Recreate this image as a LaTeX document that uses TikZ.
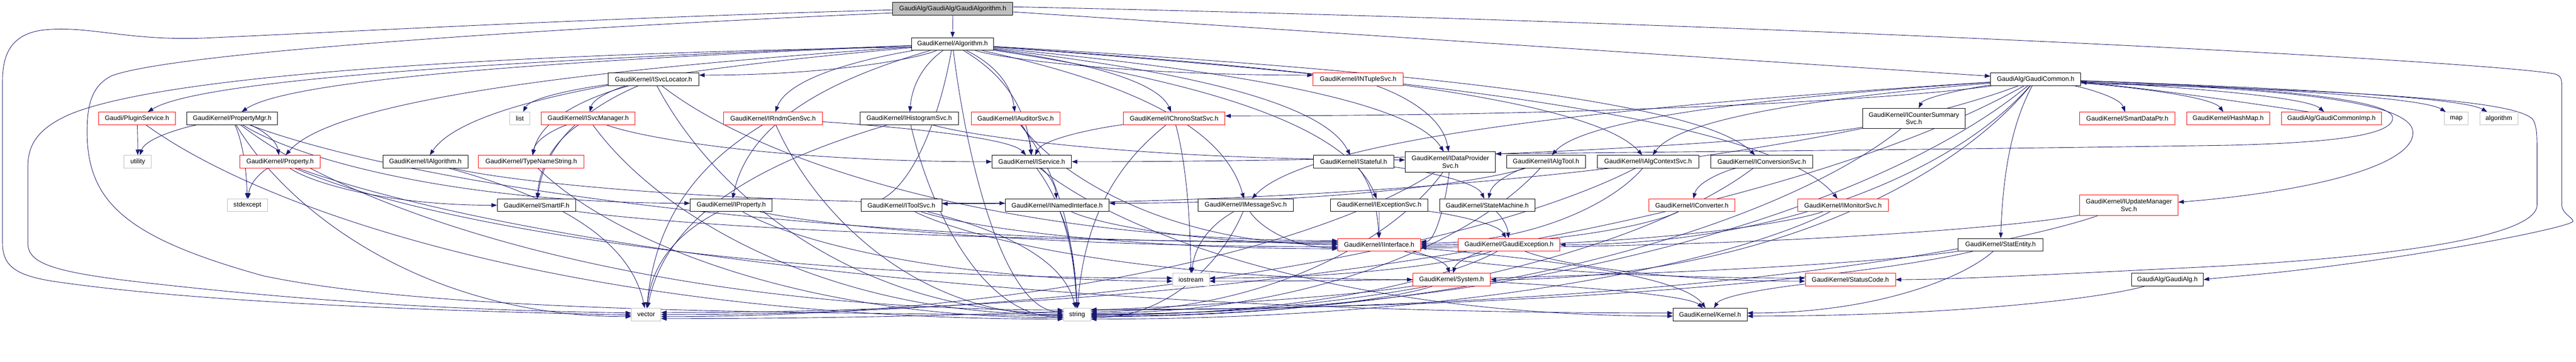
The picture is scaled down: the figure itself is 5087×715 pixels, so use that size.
\documentclass[tikz,border=0pt]{standalone}
\usepackage{fontspec}
\setmainfont{Liberation Sans}
\usetikzlibrary{arrows.meta,calc,backgrounds}
\definecolor{eblue}{HTML}{191970}
\definecolor{gbox}{HTML}{BFBFBF}
\tikzset{
  nbox/.style={draw, fill=white, line width=0.9pt, minimum height=25pt, inner sep=0pt,
    font=\fontsize{12.8}{15}\selectfont, align=center},
  bk/.style={nbox, draw=black},
  rd/.style={nbox, draw=red},
  gr/.style={nbox, draw=gbox},
  dep/.style={draw=eblue, line width=0.9pt, -{Triangle[length=11pt,width=8pt]}},
}
\newcommand\ed[3][]{%
  \coordinate (q0) at ($(#3)!0.15!(#2|-#3)$);
  \coordinate (q) at (q0|-#2);
  \coordinate (m1) at ($(#2)!0.5!(#3)$);
  \coordinate (m2) at ($(#2)!0.2!(#3)$);
  \coordinate (c1) at (m1|-m2);
  \draw[dep,#1] (#2) .. controls (c1) and ($(#3)!0.55!(q)$) .. (#3);}
\newcommand\eh[3][]{%
  \coordinate (e) at (#3);
  \coordinate (q0) at ($(#2)!0.3!(e|-#2)$);
  \coordinate (q) at (q0|-e);
  \draw[dep,#1] (#2) .. controls ($(#2)!0.5!(q)$) and ($(e)!0.5!(e-|#2)$) .. (e);}
\begin{document}
\begin{tikzpicture}[x=1pt,y=-1pt]
\useasboundingbox (0,0) rectangle (5087,715);
% row 0-2
\node[bk,fill=gbox,minimum width=237] (root) at (1881.5,17.5) {GaudiAlg/GaudiAlg/GaudiAlgorithm.h};
\node[bk,minimum width=162] (alg) at (1881,87) {GaudiKernel/Algorithm.h};
\node[bk,minimum width=179] (svcloc) at (1290.5,156.5) {GaudiKernel/ISvcLocator.h};
\node[rd,minimum width=178] (ntuple) at (2682,156.5) {GaudiKernel/INTupleSvc.h};
\node[bk,minimum width=178] (gcommon) at (4020,156.5) {GaudiAlg/GaudiCommon.h};
% row 3
\node[rd,minimum width=151] (plugin) at (270.5,234) {Gaudi/PluginService.h};
\node[bk,minimum width=179] (propmgr) at (458.5,234) {GaudiKernel/PropertyMgr.h};
\node[gr,minimum width=39] (list) at (1026.5,234) {list};
\node[rd,minimum width=185] (svcmgr) at (1161.5,234) {GaudiKernel/ISvcManager.h};
\node[rd,minimum width=195] (rndm) at (1526.5,234) {GaudiKernel/IRndmGenSvc.h};
\node[bk,minimum width=195] (histo) at (1795.5,234) {GaudiKernel/IHistogramSvc.h};
\node[rd,minimum width=175] (auditor) at (2005.5,234) {GaudiKernel/IAuditorSvc.h};
\node[rd,minimum width=201] (chrono) at (2318.5,234) {GaudiKernel/IChronoStatSvc.h};
\node[bk,minimum width=203,minimum height=40] (counter) at (3779.5,234) {GaudiKernel/ICounterSummary\\Svc.h};
\node[rd,minimum width=188] (sdptr) at (4201,234) {GaudiKernel/SmartDataPtr.h};
\node[rd,minimum width=164] (hashmap) at (4400,234) {GaudiKernel/HashMap.h};
\node[rd,minimum width=198] (gcimp) at (4604,234) {GaudiAlg/GaudiCommonImp.h};
\node[gr,minimum width=47] (map) at (4850.5,234) {map};
\node[gr,minimum width=75] (algorithm) at (4934.5,234) {algorithm};
% row 4
\node[gr,minimum width=54] (utility) at (272,319.5) {utility};
\node[rd,minimum width=158] (property) at (553,319.5) {GaudiKernel/Property.h};
\node[bk,minimum width=168] (ialg) at (840,319.5) {GaudiKernel/IAlgorithm.h};
\node[rd,minimum width=208] (tns) at (1049,319.5) {GaudiKernel/TypeNameString.h};
\node[bk,minimum width=157] (iservice) at (2037.5,319.5) {GaudiKernel/IService.h};
\node[bk,minimum width=158] (istateful) at (2673,319.5) {GaudiKernel/IStateful.h};
\node[bk,minimum width=178,minimum height=40] (idp) at (2864,320) {GaudiKernel/IDataProvider\\Svc.h};
\node[bk,minimum width=156] (ialgtool) at (3053,319.5) {GaudiKernel/IAlgTool.h};
\node[bk,minimum width=201] (actx) at (3254.5,319.5) {GaudiKernel/IAlgContextSvc.h};
\node[bk,minimum width=202] (iconv) at (3479,319.5) {GaudiKernel/IConversionSvc.h};
% row 5
\node[gr,minimum width=79] (stdexcept) at (488.5,405.5) {stdexcept};
\node[bk,minimum width=155] (smartif) at (1059.5,405.5) {GaudiKernel/SmartIF.h};
\node[bk,minimum width=162] (iprop) at (1444,405.5) {GaudiKernel/IProperty.h};
\node[bk,minimum width=160] (itoolsvc) at (1780,405.5) {GaudiKernel/IToolSvc.h};
\node[bk,minimum width=205] (inamed) at (2087.5,405.5) {GaudiKernel/INamedInterface.h};
\node[bk,minimum width=188] (imsg) at (2460,405.5) {GaudiKernel/IMessageSvc.h};
\node[bk,minimum width=193] (iexc) at (2723.5,405.5) {GaudiKernel/IExceptionSvc.h};
\node[bk,minimum width=188] (sm) at (2937,405.5) {GaudiKernel/StateMachine.h};
\node[rd,minimum width=170] (iconverter) at (3341,405.5) {GaudiKernel/IConverter.h};
\node[rd,minimum width=179] (imon) at (3639.5,405.5) {GaudiKernel/IMonitorSvc.h};
\node[rd,minimum width=194,minimum height=41] (iupd) at (4204,405.5) {GaudiKernel/IUpdateManager\\Svc.h};
% row 6
\node[rd,minimum width=163] (iif) at (2723.5,483.5) {GaudiKernel/IInterface.h};
\node[rd,minimum width=200] (gexc) at (2980,483.5) {GaudiKernel/GaudiException.h};
\node[bk,minimum width=167] (statent) at (3950.5,483.5) {GaudiKernel/StatEntity.h};
% row 7
\node[gr,minimum width=72] (iostream) at (2352,552.5) {iostream};
\node[rd,minimum width=153] (system) at (2866.5,552.5) {GaudiKernel/System.h};
\node[rd,minimum width=178] (statuscode) at (3654,552.5) {GaudiKernel/StatusCode.h};
\node[bk,minimum width=142] (gaudialg) at (4280,552.5) {GaudiAlg/GaudiAlg.h};
% row 8
\node[gr,minimum width=58] (vector) at (1276,621.5) {vector};
\node[gr,minimum width=54] (string) at (2127,621.5) {string};
\node[bk,minimum width=146] (kernel) at (3377,621.5) {GaudiKernel/Kernel.h};

\begin{pgfonlayer}{background}
% root
\draw[dep] (root) -- (alg);
\draw[dep] ([yshift=-6]root.east) -- ([yshift=6]gcommon.west);
\draw[dep] ([yshift=4]root.east) .. controls (3500,45) and (4900,120) .. (5045,146)
  .. controls (5055,149) and (5059,154) .. (5059,168) -- (5059,405)
  .. controls (5059,422) and (5081,430) .. (5081,437)
  .. controls (5081,448) and (4800,505) .. (4500,538)
  .. controls (4420,546) and (4380,549) .. (gaudialg.east);
\draw[dep] ([yshift=-2]root.west) .. controls (1200,35) and (700,62) .. (408,75)
  .. controls (250,82) and (170,48) .. (80,60) .. controls (20,70) and (5,110) .. (5,160)
  -- (5,480) .. controls (5,525) and (30,543) .. (100,555)
  .. controls (400,600) and (900,615) .. ([yshift=-1]vector.west);
\draw[dep] ([yshift=-8]root.west) .. controls (1200,50) and (350,100) .. (220,150)
  .. controls (180,170) and (172,210) .. (172,260) .. controls (172,400) and (250,470) .. (520,545)
  .. controls (900,625) and (1700,615) .. ([yshift=-3]string.west);
% alg
\draw[dep] ([yshift=-6]alg.west) .. controls (1100,105) and (350,140) .. (140,225)
  .. controls (70,255) and (55,290) .. (55,330) -- (55,480)
  .. controls (55,520) and (100,538) .. (300,560)
  .. controls (700,605) and (1000,614) .. ([yshift=3]vector.west);
\eh{alg}{[yshift=8]svcloc.east}
\eh{alg}{[yshift=8]ntuple.west}
\ed{alg}{plugin}
\ed{alg}{propmgr}
\ed{alg}{property}
\ed{alg}{ialg}
\ed{alg}{rndm}
\ed{alg}{histo}
\ed{alg}{auditor}
\ed{alg}{chrono}
\ed{alg}{iservice}
\ed{alg}{iprop}
\eh{alg}{[yshift=4]itoolsvc.west}
\ed{alg}{imsg}
\ed{alg}{istateful}
\ed{alg}{idp}
\ed{alg}{iconv}
\ed{alg}{imon}
\ed{alg}{iexc}
\ed{alg}{actx}
\eh{alg}{[yshift=6]string.west}
% svcloc
\ed{svcloc}{list}
\ed{svcloc}{svcmgr}
\ed{svcloc}{tns}
\ed{svcloc}{smartif}
\eh{svcloc}{[yshift=8]iif.west}
\eh{svcloc}{[yshift=3]string.west}
% svcmgr
\ed{svcmgr}{tns}
\ed{svcmgr}{smartif}
\eh{svcmgr}{iservice.west}
\eh{svcmgr}{string.west}
% tns
\eh{tns}{[yshift=-6]string.west}
% plugin
\ed{plugin}{utility}
\eh{plugin}{[yshift=-9]string.west}
% propmgr
\ed{propmgr}{utility}
\ed{propmgr}{property}
\ed{propmgr}{stdexcept}
\eh{propmgr}{[yshift=4]iprop.west}
\eh{propmgr}{[yshift=4]iif.west}
\eh{propmgr}{[yshift=-4]vector.west}
\eh{propmgr}{[yshift=9]string.west}
% property
\ed{property}{stdexcept}
\eh{property}{smartif.west}
\eh{property}{[yshift=3]iostream.west}
\eh{property}{[yshift=3]kernel.west}
% ialg
\eh{ialg}{[yshift=4]inamed.west}
\ed{ialg}{vector}
% rndm
\ed{rndm}{iservice}
\ed{rndm}{vector}
\eh{rndm}{[yshift=-1]string.west}
% histo
\eh{histo}{[yshift=4]idp.west}
\ed{histo}{vector}
\eh{histo}{[yshift=-5]string.west}
% auditor
\ed{auditor}{iservice}
\eh{auditor}{iif.west}
\ed{auditor}{string}
% chrono
\ed{chrono}{iservice}
\ed{chrono}{iostream}
\ed{chrono}{string}
% ntuple
\ed{ntuple}{idp}
% iservice
\ed{iservice}{inamed}
\ed{iservice}{string}
\eh{iservice}{[yshift=-3]kernel.west}
% istateful
\ed{istateful}{iif}
\ed{istateful}{sm}
% idp
\eh{idp}{[yshift=6]iif.east}
\eh{idp}{[yshift=6]string.east}
\eh{idp}{[yshift=-4]vector.east}
% ialgtool
\eh{ialgtool}{[yshift=4]inamed.east}
\ed{ialgtool}{sm}
\eh{ialgtool}{[yshift=3]string.east}
% actx
\eh{actx}{[yshift=3]iif.east}
\eh{actx}{vector.east}
% iconv
\ed{iconv}{iconverter}
\eh{iconv}{string.east}
% counter
\eh{counter}{iservice.east}
\eh{counter}{[yshift=-3]string.east}
% iprop
\eh{iprop}{[yshift=-4]iif.west}
\ed{iprop}{vector}
\eh{iprop}{[yshift=-3]iostream.west}
% itoolsvc
\eh{itoolsvc}{[yshift=-8]iif.west}
\eh{itoolsvc}{system.west}
\ed{itoolsvc}{string}
% inamed
\eh{inamed}{[yshift=2]iif.west}
\ed{inamed}{string}
% imsg
\eh{imsg}{[yshift=-6]iif.west}
\ed{imsg}{iostream}
\eh{imsg}{[yshift=-6]string.east}
% iexc, sm
\ed{iexc}{iif}
\ed{iexc}{gexc}
\ed{sm}{gexc}
% iconverter, imon, iupd
\eh{iconverter}{iif.east}
\eh{imon}{[yshift=-3]iif.east}
\eh{imon}{[yshift=-9]string.east}
\eh{iupd}{[yshift=-6]iif.east}
\eh{iupd}{[yshift=9]string.east}
% smartif
\eh{smartif}{[yshift=6]iif.west}
% iif
\ed{iif}{system}
\eh{iif}{[yshift=3]statuscode.west}
\ed{iif}{kernel}
% gexc
\ed{gexc}{system}
\eh{gexc}{[yshift=-3]statuscode.west}
\eh{gexc}{[yshift=-1]string.east}
\eh{gexc}{[yshift=3]iostream.east}
% statent
\eh{statent}{[yshift=-3]iostream.east}
\eh{statent}{[yshift=10]string.east}
\eh{statent}{[yshift=3]kernel.east}
% system
\ed{system}{kernel}
\eh{system}{[yshift=-4]string.east}
\eh{system}{[yshift=-8]vector.east}
% statuscode, gaudialg
\ed{statuscode}{kernel}
\eh{gaudialg}{[yshift=-3]kernel.east}
% gcommon
\ed{gcommon}{counter}
\ed{gcommon}{sdptr}
\ed{gcommon}{hashmap}
\ed{gcommon}{gcimp}
\ed{gcommon}{map}
\ed{gcommon}{algorithm}
\ed{gcommon}{statent}
\eh{gcommon}{[yshift=5]chrono.east}
\ed{gcommon}{actx}
\ed{gcommon}{ialgtool}
\eh{gcommon}{[yshift=3]itoolsvc.east}
\ed{gcommon}{imsg}
\eh{gcommon}{gexc.east}
\eh{gcommon}{system.east}
\eh{gcommon}{[yshift=1]string.east}
\eh{gcommon}{[yshift=4]vector.east}
\draw[dep] ([yshift=-3]gcommon.east) .. controls (4450,170) and (4725,195) .. (4725,233)
  .. controls (4725,268) and (4600,282) .. (4400,287)
  .. controls (3800,296) and (3300,300) .. ([yshift=16]idp.east);
\draw[dep] ([yshift=-6]gcommon.east) .. controls (4550,175) and (4765,205) .. (4765,262)
  .. controls (4765,330) and (4550,380) .. ([yshift=6]iupd.east);
\draw[dep] ([yshift=-8]gcommon.east) .. controls (4700,180) and (4990,200) .. (5004,240)
  .. controls (5010,255) and (5010,270) .. (5010,300) -- (5010,405)
  .. controls (5010,470) and (4700,512) .. (4300,530)
  .. controls (4000,545) and (3850,552) .. (statuscode.east);
\draw[dep] ([xshift=-45]gcimp.north) .. controls (4450,205) and (4250,175) .. ([yshift=-6]gcommon.east);
\end{pgfonlayer}
\end{tikzpicture}
\end{document}
